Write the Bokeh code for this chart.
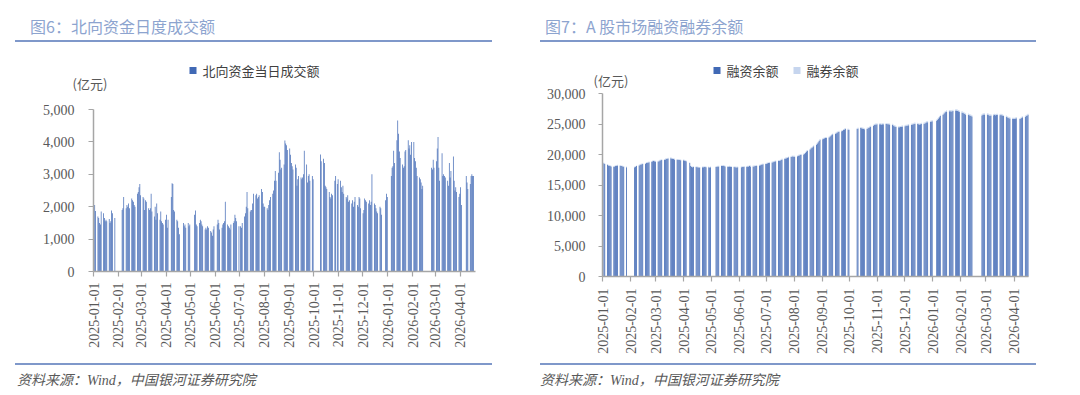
import numpy as np
import pandas as pd
from math import pi
from bokeh.plotting import figure
from bokeh.models import (Range1d, FixedTicker, NumeralTickFormatter, DatetimeTickFormatter,
                          BoxAnnotation, Label, Div, ColumnDataSource)
from bokeh.layouts import row, column
from bokeh.embed import file_html
from bokeh.resources import INLINE

# ---------------- tick labels ----------------
month_ticks = ["2025-01-01", "2025-02-01", "2025-03-01", "2025-04-01", "2025-05-01", "2025-06-01",
               "2025-07-01", "2025-08-01", "2025-09-01", "2025-10-01", "2025-11-01", "2025-12-01",
               "2026-01-01", "2026-02-01", "2026-03-01", "2026-04-01"]
nb_yticks = [0, 1000, 2000, 3000, 4000, 5000]
mg_yticks = [0, 5000, 10000, 15000, 20000, 25000, 30000]

# ---------------- market closures ----------------
nb_holidays = ["2025-01-01", "2025-01-28", "2025-01-29", "2025-01-30", "2025-01-31", "2025-02-03",
               "2025-02-04", "2025-04-04", "2025-04-18", "2025-04-21", "2025-05-01", "2025-05-02",
               "2025-05-05", "2025-06-02", "2025-07-01", "2025-10-01", "2025-10-02", "2025-10-03",
               "2025-10-06", "2025-10-07", "2025-10-08", "2025-10-29", "2025-12-25", "2025-12-26",
               "2026-01-01", "2026-01-02", "2026-02-16", "2026-02-17", "2026-02-18", "2026-02-19",
               "2026-02-20", "2026-02-23", "2026-04-03", "2026-04-06", "2026-04-07"]
a_holidays = ["2025-01-01", "2025-01-28", "2025-01-29", "2025-01-30", "2025-01-31", "2025-02-03",
              "2025-02-04", "2025-04-04", "2025-05-01", "2025-05-02", "2025-05-05", "2025-06-02",
              "2025-10-01", "2025-10-02", "2025-10-03", "2025-10-06", "2025-10-07", "2025-10-08",
              "2026-01-01", "2026-01-02", "2026-02-16", "2026-02-17", "2026-02-18", "2026-02-19",
              "2026-02-20", "2026-02-23", "2026-04-06"]

# ---------------- 北向资金当日成交额 (亿元), per trading day ----------------
nb_2025_01 = [2050, 1870, 1700, 1650, 1500, 1450, 1850, 1800, 1650, 1550, 1600, 1550, 1620, 1500, 1550, 1880, 1800, 1650]
nb_2025_02 = [1900, 1950, 2300, 1950, 2050, 2000, 2100, 1950, 2250, 2200, 2150, 2050, 2000, 2400, 2450, 2600, 2700, 2350]
nb_2025_03 = [2300, 2250, 1900, 2200, 2150, 1950, 1900, 1950, 2400, 1850, 1700, 2000, 1600, 2100, 1800, 1600, 1850, 1550, 1500, 1450, 1600]
nb_2025_04 = [1750, 1350, 1600, 2300, 2720, 2700, 1900, 1850, 1600, 1550, 1350, 1150, 1500, 1400, 1450, 1350, 1500, 1400, 1450]
nb_2025_05 = [1750, 1880, 1450, 1400, 1500, 1600, 1550, 1450, 1400, 1300, 1350, 1300, 1400, 1350, 1250, 1200, 1100, 1300, 1400]
nb_2025_06 = [1450, 1600, 1500, 1300, 1350, 1450, 1500, 1550, 2150, 1450, 1400, 1350, 1300, 1450, 1500, 1550, 1750, 1650, 1550, 1400]
nb_2025_07 = [1400, 1350, 1500, 1700, 1800, 2000, 2450, 1950, 1850, 1900, 1900, 2100, 2400, 2350, 2400, 2250, 2300, 2350, 2550, 2450, 2100, 2000]
nb_2025_08 = [2000, 1950, 1900, 2050, 2200, 2300, 2400, 2500, 2800, 3100, 2800, 3050, 3680, 3450, 3150, 3200, 3300, 4040, 3950, 3900, 3750]
nb_2025_09 = [3800, 3600, 3350, 3250, 3150, 3300, 3200, 2650, 2850, 2950, 2900, 2850, 2900, 3000, 3730, 3300, 2750, 2950, 3000, 2800, 2950, 2850]
nb_2025_10 = [3610, 3400, 3480, 3350, 2650, 2600, 2550, 2450, 2300, 2250, 2400, 2350, 2800, 2950, 2700, 2850]
nb_2025_11 = [2800, 2600, 2450, 2650, 2400, 2300, 2250, 2350, 2150, 2200, 2100, 2200, 2000, 2150, 2300, 2050, 2000, 2300, 2250, 1950]
nb_2025_12 = [1800, 1900, 2250, 2200, 2150, 2100, 2200, 2050, 2150, 3000, 2100, 2050, 1950, 1850, 1800, 2000, 1950, 1750, 2200, 2400, 2300]
nb_2026_01 = [2950, 3200, 3250, 3730, 3350, 4050, 4660, 4250, 3700, 3500, 3300, 3200, 3250, 3700, 3750, 4050, 3800, 3900, 3600, 4000]
nb_2026_02 = [4000, 3500, 3400, 3200, 2950, 2900, 2850, 2750, 2550, 2650, 3200, 3150, 3450, 3200]
nb_2026_03 = [3400, 3800, 4150, 3200, 2800, 3650, 2950, 3000, 2950, 2900, 2800, 2650, 3350, 2900, 3100, 3550, 2800, 2500, 2600, 2450, 2300, 2400]
nb_2026_04 = [2600, 2050, 2950, 2750, 2550, 2700, 2950, 3000, 2950, 2950]

# ---------------- 融资余额 (亿元), per trading day ----------------
rz_2025_01 = [18550, 18450, 18300, 18200, 18150, 18100, 18050, 18000, 18050, 18100, 18150, 18200, 18150, 18100, 18100, 18050, 18000, 17900]
rz_2025_02 = [17900, 18000, 18100, 18200, 18300, 18350, 18400, 18450, 18500, 18600, 18650, 18700, 18750, 18800, 18900, 18950, 18900, 18850]
rz_2025_03 = [18850, 18900, 19000, 19050, 19100, 19150, 19200, 19250, 19300, 19350, 19400, 19350, 19300, 19250, 19200, 19150, 19150, 19100, 19100, 19050, 19050]
rz_2025_04 = [19000, 18950, 18900, 18600, 18100, 17950, 17900, 17950, 17950, 17900, 17900, 17850, 17850, 17900, 17900, 17950, 17950, 17900, 17900, 17850, 17900]
rz_2025_05 = [17950, 18000, 18050, 18050, 18100, 18100, 18150, 18100, 18050, 18000, 18000, 18050, 18000, 17950, 17950, 17900, 17900, 17850, 17900]
rz_2025_06 = [17900, 17950, 17950, 18000, 18000, 18050, 18050, 18100, 18050, 18050, 18050, 18100, 18100, 18150, 18200, 18250, 18300, 18350, 18400, 18450]
rz_2025_07 = [18500, 18550, 18600, 18650, 18700, 18750, 18800, 18850, 18900, 18950, 18950, 19000, 19100, 19200, 19300, 19350, 19400, 19450, 19550, 19600, 19650, 19700, 19650]
rz_2025_08 = [19650, 19700, 19800, 19850, 19900, 19950, 20000, 20100, 20300, 20500, 20600, 20800, 21000, 21100, 21200, 21350, 21600, 21800, 22000, 22200, 22400]
rz_2025_09 = [22500, 22600, 22650, 22700, 22700, 22800, 22900, 23050, 23200, 23300, 23400, 23500, 23600, 23700, 23750, 23800, 23850, 24000, 24100, 24200, 24100, 24000]
rz_2025_10 = [24200, 24250, 24350, 24300, 24250, 24200, 24150, 24200, 24300, 24350, 24450, 24550, 24700, 24850, 24900, 24900, 24950]
rz_2025_11 = [24950, 24950, 24900, 24950, 24950, 25000, 25000, 24950, 24950, 24900, 24850, 24750, 24650, 24600, 24500, 24450, 24450, 24500, 24550, 24600]
rz_2025_12 = [24650, 24700, 24700, 24750, 24800, 24850, 24900, 24950, 25000, 25050, 25000, 24950, 24900, 24950, 25000, 25050, 25100, 25200, 25300, 25300, 25350, 25400, 25450]
rz_2026_01 = [25550, 25700, 25900, 26100, 26300, 26500, 26700, 26850, 26950, 27050, 27100, 27100, 27050, 27100, 27150, 27200, 27200, 27150, 27100, 27000]
rz_2026_02 = [26900, 26800, 26750, 26650, 26550, 26500, 26450, 26400, 26300, 26250, 26400, 26500, 26550, 26550]
rz_2026_03 = [26550, 26500, 26400, 26350, 26400, 26450, 26500, 26450, 26500, 26500, 26450, 26500, 26450, 26400, 26300, 26200, 26100, 26000, 25950, 25900, 25850, 25850]
rz_2026_04 = [25850, 25900, 25950, 25800, 25900, 26000, 26100, 26200, 26300, 26400, 26500]

# ---------------- 融券余额 (亿元), per trading day ----------------
rq_2025_01 = [125, 124, 123, 122, 121, 121, 120, 120, 119, 119, 118, 118, 118, 117, 117, 117, 116, 116]
rq_2025_02 = [116, 116, 117, 117, 118, 118, 119, 119, 120, 120, 121, 121, 122, 122, 123, 123, 124, 124]
rq_2025_03 = [124, 125, 125, 126, 126, 127, 127, 128, 128, 129, 129, 130, 130, 130, 131, 131, 131, 132, 132, 132, 133]
rq_2025_04 = [133, 133, 132, 128, 125, 124, 123, 122, 122, 121, 121, 120, 120, 120, 119, 119, 119, 118, 118, 118, 118]
rq_2025_05 = [118, 118, 119, 119, 119, 120, 120, 120, 121, 121, 121, 122, 122, 122, 123, 123, 123, 124, 124]
rq_2025_06 = [124, 124, 125, 125, 125, 126, 126, 126, 127, 127, 127, 128, 128, 128, 129, 129, 129, 130, 130, 130]
rq_2025_07 = [131, 131, 132, 132, 133, 133, 134, 134, 135, 135, 136, 136, 137, 137, 138, 138, 139, 139, 140, 140, 141, 141, 142]
rq_2025_08 = [142, 143, 143, 144, 144, 145, 145, 146, 146, 147, 147, 148, 148, 149, 149, 150, 150, 151, 151, 152, 152]
rq_2025_09 = [152, 153, 153, 154, 154, 155, 155, 156, 156, 157, 157, 158, 158, 159, 159, 160, 160, 161, 161, 162, 162, 163]
rq_2025_10 = [163, 164, 164, 165, 165, 166, 166, 167, 167, 168, 168, 169, 169, 170, 170, 171, 171]
rq_2025_11 = [171, 172, 172, 173, 173, 174, 174, 175, 175, 176, 176, 177, 177, 178, 178, 179, 179, 180, 180, 181]
rq_2025_12 = [181, 181, 182, 182, 183, 183, 184, 184, 185, 185, 186, 186, 187, 187, 188, 188, 189, 189, 190, 190, 191, 191, 192]
rq_2026_01 = [192, 193, 194, 195, 196, 197, 198, 199, 200, 201, 202, 203, 204, 205, 206, 207, 208, 209, 210, 211]
rq_2026_02 = [211, 210, 209, 208, 207, 206, 205, 204, 203, 202, 203, 204, 205, 206]
rq_2026_03 = [206, 205, 204, 203, 202, 201, 200, 199, 198, 197, 196, 195, 194, 193, 192, 191, 190, 189, 188, 187, 186, 185]
rq_2026_04 = [185, 184, 183, 182, 181, 180, 180, 181, 182, 183, 184]

months = ["2025-01", "2025-02", "2025-03", "2025-04", "2025-05", "2025-06", "2025-07", "2025-08",
          "2025-09", "2025-10", "2025-11", "2025-12", "2026-01", "2026-02", "2026-03", "2026-04"]
nb_months = [nb_2025_01, nb_2025_02, nb_2025_03, nb_2025_04, nb_2025_05, nb_2025_06, nb_2025_07, nb_2025_08,
             nb_2025_09, nb_2025_10, nb_2025_11, nb_2025_12, nb_2026_01, nb_2026_02, nb_2026_03, nb_2026_04]
rz_months = [rz_2025_01, rz_2025_02, rz_2025_03, rz_2025_04, rz_2025_05, rz_2025_06, rz_2025_07, rz_2025_08,
             rz_2025_09, rz_2025_10, rz_2025_11, rz_2025_12, rz_2026_01, rz_2026_02, rz_2026_03, rz_2026_04]
rq_months = [rq_2025_01, rq_2025_02, rq_2025_03, rq_2025_04, rq_2025_05, rq_2025_06, rq_2025_07, rq_2025_08,
             rq_2025_09, rq_2025_10, rq_2025_11, rq_2025_12, rq_2026_01, rq_2026_02, rq_2026_03, rq_2026_04]

DAY = 86400000.0


def ms(s):
    return pd.Timestamp(s).value / 1e6


def trading_days(end, holidays):
    days = pd.bdate_range("2025-01-01", end)
    return days[~days.isin(pd.to_datetime(holidays))]


def assemble(days, *series):
    xs, cols, bad = [], [[] for _ in series], []
    for i, key in enumerate(months):
        md = [d for d in days if d.strftime("%Y-%m") == key]
        for s in series:
            if len(s[i]) != len(md):
                bad.append(f"{key}:{len(md)}/{len(s[i])}")
        n = min([len(md)] + [len(s[i]) for s in series])
        xs += [ms(d) + DAY / 2 for d in md[:n]]
        for c, s in zip(cols, series):
            c += s[i][:n]
    return xs, cols, bad


BLUE = "#4169B5"
LIGHT = "#C6D5EE"
AXIS = "#A6A6A6"
TXT = "#595959"
CJK = "Noto Sans CJK SC"
SERIF = "Liberation Serif"
AX_START = "2025-01-01"
FIG_H = 321          # figure occupies page y 42 .. 363


def style(p, yticks, x_end):
    p.xaxis.ticker = FixedTicker(ticks=[ms(t) for t in month_ticks])
    fmt = "%Y-%m-%d"
    p.xaxis.formatter = DatetimeTickFormatter(milliseconds=fmt, seconds=fmt, minsec=fmt, minutes=fmt,
                                              hourmin=fmt, hours=fmt, days=fmt, months=fmt, years=fmt)
    p.xaxis.major_label_orientation = pi / 2
    p.xaxis.bounds = (ms(AX_START), ms(x_end))
    p.xaxis.fixed_location = 0
    p.yaxis.ticker = FixedTicker(ticks=yticks)
    p.yaxis.formatter = NumeralTickFormatter(format="0,0")
    p.yaxis.bounds = (yticks[0], yticks[-1])
    p.yaxis.fixed_location = ms(AX_START)
    for ax in (p.xaxis[0], p.yaxis[0]):
        ax.axis_line_color = AXIS
        ax.axis_line_width = 1.5
        ax.major_tick_line_color = AXIS
        ax.major_tick_line_width = 1.2
        ax.major_tick_in = 0
        ax.major_tick_out = 5
        ax.minor_tick_line_color = None
        ax.major_label_text_font = SERIF
        ax.major_label_text_font_size = "14px"
        ax.major_label_text_color = TXT
    p.xaxis.major_label_standoff = 6
    p.yaxis.major_label_standoff = 13
    p.xgrid.grid_line_color = None
    p.ygrid.grid_line_color = None
    p.outline_line_color = None
    p.background_fill_color = "white"
    p.border_fill_color = "white"


def legend_entry(p, x, y, color, text):
    """square swatch + label, in screen px measured from the frame's bottom-left corner"""
    p.add_layout(BoxAnnotation(left=x, right=x + 7, bottom=y - 3.5, top=y + 3.5,
                               left_units="screen", right_units="screen",
                               bottom_units="screen", top_units="screen",
                               fill_color=color, fill_alpha=1.0, line_color=None))
    p.add_layout(Label(x=x + 13, y=y, x_units="screen", y_units="screen", text=text,
                       text_font=CJK, text_font_size="13px", text_color="#404040", text_baseline="middle"))


# ---------------- left: 北向资金 ----------------
# the frame fills the whole figure; axes are pinned at 2025-01-01 (page x 93) and y = 0 (page y 271)
L_AXIS_PX, L_END = 93, "2026-04-20"
l_ppd = (475 - L_AXIS_PX) / ((ms(L_END) - ms(AX_START)) / DAY)
l_x0 = ms(AX_START) - L_AXIS_PX / l_ppd * DAY
l_x1 = ms(L_END) + (540 - 475) / l_ppd * DAY
l_upp = 5000 / (271 - 109)
l_y0, l_y1 = -(363 - 271) * l_upp, (271 - 42) * l_upp

nb_days = trading_days("2026-04-17", nb_holidays)
nb_x, (nb_v,), nb_bad = assemble(nb_days, nb_months)
src_nb = ColumnDataSource(dict(x=np.array(nb_x), v=nb_v))

p1 = figure(width=540, height=FIG_H, x_axis_type="datetime", output_backend="svg", toolbar_location=None,
            x_range=Range1d(l_x0, l_x1), y_range=Range1d(l_y0, l_y1),
            min_border_left=0, min_border_right=0, min_border_top=0, min_border_bottom=0)
p1.vbar(x="x", top="v", bottom=0, width=DAY * 0.9, source=src_nb, fill_color=BLUE, line_color=None)
style(p1, nb_yticks, L_END)
p1.yaxis.major_label_standoff = 14
legend_entry(p1, 189, 293, BLUE, "北向资金当日成交额")
p1.add_layout(Label(x=72, y=280, x_units="screen", y_units="screen", text="(亿元)",
                    text_font=CJK, text_font_size="13px", text_color=TXT, text_baseline="middle"))

# ---------------- right: 融资融券 ----------------
R_AXIS_PX, R_END = 62, "2026-04-17"
r_ppd = (488 - R_AXIS_PX) / ((ms(R_END) - ms(AX_START)) / DAY)
r_x0 = ms(AX_START) - R_AXIS_PX / r_ppd * DAY
r_x1 = ms(R_END) + (540 - 488) / r_ppd * DAY
r_upp = 30000 / (276 - 93)
r_y0, r_y1 = -(363 - 276) * r_upp, (276 - 42) * r_upp

a_days = trading_days("2026-04-16", a_holidays)
mg_x, (rz_v, rq_v), mg_bad = assemble(a_days, rz_months, rq_months)
src_mg = ColumnDataSource(dict(x=np.array(mg_x), rz=rz_v, rq=rq_v,
                               tot=[a + b for a, b in zip(rz_v, rq_v)]))

p2 = figure(width=540, height=FIG_H, x_axis_type="datetime", output_backend="svg", toolbar_location=None,
            x_range=Range1d(r_x0, r_x1), y_range=Range1d(r_y0, r_y1),
            min_border_left=0, min_border_right=0, min_border_top=0, min_border_bottom=0)
p2.vbar(x="x", top="rz", bottom=0, width=DAY * 0.9, source=src_mg, fill_color=BLUE, line_color=None)
p2.vbar(x="x", top="tot", bottom="rz", width=DAY * 0.9, source=src_mg, fill_color=LIGHT, line_color=None)
style(p2, mg_yticks, R_END)
p2.xaxis.major_label_standoff = 7
p2.yaxis.major_tick_out = 4
legend_entry(p2, 173, 293, BLUE, "融资余额")
legend_entry(p2, 253, 293, LIGHT, "融券余额")
p2.add_layout(Label(x=53, y=283, x_units="screen", y_units="screen", text="(亿元)",
                    text_font=CJK, text_font_size="13px", text_color=TXT, text_baseline="middle"))

bad = nb_bad + mg_bad
if bad:
    p1.add_layout(Label(x=100, y=240, x_units="screen", y_units="screen", text="MISMATCH " + " ".join(bad),
                        text_color="red", text_font_size="10px"))

# ---------------- titles and sources ----------------
TITLE_CSS = ("box-sizing:border-box;height:42px;padding-top:17px;border-bottom:2px solid #7F98CA;"
             "font-family:'Noto Sans CJK SC';font-size:16px;line-height:18px;color:#8DA4CF;white-space:nowrap;")
SRC_CSS = ("box-sizing:border-box;height:32px;padding-top:8px;border-top:2px solid #7F98CA;"
           "font-family:'Liberation Serif','Noto Sans CJK SC';font-style:italic;font-size:14px;line-height:16px;"
           "color:#595959;white-space:nowrap;")

t1 = Div(text=f'<div style="{TITLE_CSS}margin-left:15px;width:477px;padding-left:15px;">图6：北向资金日度成交额</div>',
         width=540, height=42, margin=0)
t2 = Div(text=f'<div style="{TITLE_CSS}margin-left:0px;width:496px;padding-left:5px;">图7：A 股市场融资融券余额</div>',
         width=540, height=42, margin=0)
s1 = Div(text=f'<div style="{SRC_CSS}margin-left:15px;width:477px;padding-left:2px;">资料来源：Wind，中国银河证券研究院</div>',
         width=540, height=32, margin=0)
s2 = Div(text=f'<div style="{SRC_CSS}margin-left:0px;width:496px;padding-left:0px;">资料来源：Wind，中国银河证券研究院</div>',
         width=540, height=32, margin=0)

layout = row(column(t1, p1, s1, spacing=0), column(t2, p2, s2, spacing=0), spacing=0)
open("out.html", "w").write(file_html(layout, INLINE))
